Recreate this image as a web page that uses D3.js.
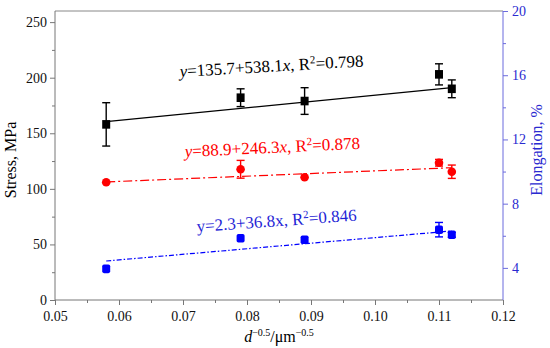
<!DOCTYPE html>
<html>
<head>
<meta charset="utf-8">
<script src="https://cdn.jsdelivr.net/npm/d3@7"></script>
<style>
  body { margin: 0; background: #fff; }
  svg text { font-family: "Liberation Serif", "Times New Roman", Tinos, "Nimbus Roman", FreeSerif, "DejaVu Serif", "Noto Serif", serif !important; }
</style>
</head>
<body>
<svg id="chart" width="550" height="348"></svg>
<script>
// grain size term d^-0.5
const sizeX = [0.058, 0.079, 0.089, 0.110, 0.112];

// tensile strength (left axis)
const stress = [158, 182, 179, 203, 190];
const stressErr = [19.5, 8, 12, 9.5, 8];

// yield strength (left axis)
const yieldStr = [106, 117.6, 110.4, 123.5, 115.4];
const yieldErr = [0, 8, 0, 3, 6];

// elongation (right axis)
const elong = [3.94, 5.85, 5.75, 6.38, 6.06];
const elongErr = [0, 0, 0, 0.45, 0.15];

// fitted lines, read at the two ends
const fitX = [0.058, 0.112];
const stressFit = [160.5, 191];
const yieldFit = [106.2, 119];
const elongFit = [4.43, 6.3];

const xTicks = [0.05, 0.06, 0.07, 0.08, 0.09, 0.10, 0.11, 0.12];
const leftTicks = [0, 50, 100, 150, 200, 250];
const rightTicks = [4, 8, 12, 16, 20];

let svg = d3.select("#chart");
let margin = { top: 11, right: 47, bottom: 48, left: 55 };
const width = 550 - margin.left - margin.right;
const height = 348 - margin.top - margin.bottom;

const g = svg.append("g")
    .attr("transform", "translate(" + margin.left + "," + margin.top + ")");

const x = d3.scaleLinear().domain([0.05, 0.12]).range([0, width]);
const yL = d3.scaleLinear().domain([0, 260]).range([height, 0]);
const yR = d3.scaleLinear().domain([2, 20]).range([height, 0]);

// frame top
g.append("line")
    .attr("x1", 0).attr("x2", width).attr("y1", 0).attr("y2", 0)
    .attr("stroke", "#888").attr("stroke-width", 1);

// minor ticks
function minor(sel) {
  sel.selectAll("text").remove();
  sel.select(".domain").remove();
}
g.append("g").attr("transform", "translate(0," + height + ")")
    .call(d3.axisBottom(x).tickValues(d3.range(0.055, 0.12, 0.01)).tickSize(3))
    .call(minor).selectAll("line").attr("stroke", "#777");
g.append("g")
    .call(d3.axisLeft(yL).tickValues(d3.range(25, 260, 50)).tickSize(3))
    .call(minor).selectAll("line").attr("stroke", "#777");
g.append("g").attr("transform", "translate(" + width + ",0)")
    .call(d3.axisRight(yR).tickValues([6, 10, 14, 18]).tickSize(3))
    .call(minor).selectAll("line").attr("stroke", "#6b6bdd");

// main axes
const xAxis = g.append("g").attr("transform", "translate(0," + height + ")")
    .call(d3.axisBottom(x).tickValues(xTicks).tickFormat(d3.format(".2f")).tickSize(5).tickPadding(6));
xAxis.selectAll("line, path").attr("stroke", "#777");
xAxis.selectAll("text").attr("font-size", 14).attr("fill", "#111");

const yAxisL = g.append("g")
    .call(d3.axisLeft(yL).tickValues(leftTicks).tickSize(5).tickPadding(3));
yAxisL.selectAll("line, path").attr("stroke", "#777");
yAxisL.selectAll("text").attr("font-size", 14).attr("fill", "#111");

const yAxisR = g.append("g").attr("transform", "translate(" + width + ",0)")
    .call(d3.axisRight(yR).tickValues(rightTicks).tickSize(5).tickPadding(4));
yAxisR.selectAll("line, path").attr("stroke", "#6b6bdd");
yAxisR.selectAll("text").attr("font-size", 14).attr("fill", "#2a2ad0");
yAxisR.select(".domain").attr("d", "M0,0V" + height);
yAxisL.select(".domain").attr("d", "M0,0V" + height);
xAxis.select(".domain").attr("d", "M0,0H" + width);

// axis titles
svg.append("text")
    .attr("transform", "translate(16,160) rotate(-90)")
    .attr("text-anchor", "middle")
    .attr("font-size", 16)
    .text("Stress, MPa");

svg.append("text")
    .attr("transform", "translate(542,150) rotate(-90)")
    .attr("text-anchor", "middle")
    .attr("font-size", 16)
    .attr("fill", "#2a2ad0")
    .text("Elongation, %");

const xt = svg.append("text")
    .attr("x", margin.left + x(0.085))
    .attr("y", 342)
    .attr("text-anchor", "middle")
    .attr("font-size", 16);
xt.append("tspan").attr("font-style", "italic").text("d");
xt.append("tspan").attr("font-size", 10).attr("dy", -6).text("\u22120.5");
xt.append("tspan").attr("dy", 6).text("/\u03bcm");
xt.append("tspan").attr("font-size", 10).attr("dy", -6).text("\u22120.5");

// series drawing
function series(vals, errs, fit, scale, color, dash, shape) {
  const line = d3.line().x(d => x(d[0])).y(d => scale(d[1]));
  g.append("path")
      .datum(fitX.map((v, i) => [v, fit[i]]))
      .attr("d", line)
      .attr("fill", "none")
      .attr("stroke", color)
      .attr("stroke-width", 1.2)
      .attr("stroke-dasharray", dash);

  const pts = sizeX.map((v, i) => ({ x: v, y: vals[i], e: errs[i] }));
  const eb = g.append("g").selectAll("g").data(pts.filter(d => d.e > 0)).enter().append("g")
      .attr("stroke", color).attr("stroke-width", 1.4);
  eb.append("line")
      .attr("x1", d => x(d.x)).attr("x2", d => x(d.x))
      .attr("y1", d => scale(d.y - d.e)).attr("y2", d => scale(d.y + d.e));
  eb.append("line")
      .attr("x1", d => x(d.x) - 4).attr("x2", d => x(d.x) + 4)
      .attr("y1", d => scale(d.y - d.e)).attr("y2", d => scale(d.y - d.e));
  eb.append("line")
      .attr("x1", d => x(d.x) - 4).attr("x2", d => x(d.x) + 4)
      .attr("y1", d => scale(d.y + d.e)).attr("y2", d => scale(d.y + d.e));

  const m = g.append("g").selectAll(".pt").data(pts).enter();
  if (shape === "circle") {
    m.append("circle")
        .attr("cx", d => x(d.x)).attr("cy", d => scale(d.y))
        .attr("r", 4.3).attr("fill", color);
  } else {
    const r = shape === "round" ? 1.8 : 0;
    m.append("rect")
        .attr("x", d => x(d.x) - 4).attr("y", d => scale(d.y) - 4.3)
        .attr("width", 8).attr("height", 8.6)
        .attr("rx", r)
        .attr("fill", color);
  }
}

series(stress, stressErr, stressFit, yL, "#000", null, "square");
series(yieldStr, yieldErr, yieldFit, yL, "#ff0000", "9,3,2,3", "circle");
series(elong, elongErr, elongFit, yR, "#0000ff", "5,2,1.5,2", "round");

// fit equations (positions in plot pixels)
function equation(px, py, angle, color, a, b, r2, italic) {
  const t = g.append("text")
      .attr("transform", "translate(" + px + "," + py + ") rotate(" + angle + ")")
      .attr("font-size", 17)
      .attr("fill", color);
  t.append("tspan").attr("font-style", italic ? "italic" : null).text("y");
  t.append("tspan").text("=" + a + "+" + b);
  t.append("tspan").attr("font-style", italic ? "italic" : null).text("x");
  t.append("tspan").text(", R");
  t.append("tspan").attr("font-size", 11).attr("dy", -6).text("2");
  t.append("tspan").attr("dy", 6).text("=" + r2);
}

equation(125, 66, -3.3, "#000", "135.7", "538.1", "0.798", true);
equation(130, 146, -2.7, "#ff0000", "88.9", "246.3", "0.878", true);
equation(142, 221, -4.1, "#1f1fd6", "2.3", "36.8", "0.846", false);
</script>
</body>
</html>
